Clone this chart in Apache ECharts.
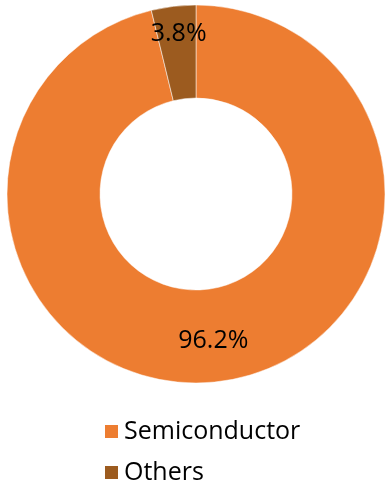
<!DOCTYPE html>
<html><head><meta charset="utf-8">
<script src="https://cdn.jsdelivr.net/npm/echarts@6/dist/echarts.min.js"></script>
<style>html,body{margin:0;padding:0;background:#fff}#c{width:386px;height:487px}</style>
</head><body><div id="c"></div>
<script>
var categories = ["Semiconductor", "Others"];
var values = [96.2, 3.8];
var colors = ["#ED7D31", "#9C5B1F"];
var chart = echarts.init(document.getElementById('c'), null, {renderer: 'canvas'});
chart.setOption({
  animation: false,
  color: colors,
  legend: {
    orient: 'vertical',
    left: 98, top: 414, height: 80,
    itemWidth: 15, itemHeight: 15, itemGap: 16,
    icon: 'rect',
    textStyle: {fontFamily: 'Open Sans', fontSize: 25, color: '#000', lineHeight: 25},
    data: categories
  },
  series: [{
    type: 'pie',
    center: [196, 194],
    radius: [96, 189],
    startAngle: 90,
    clockwise: true,
    itemStyle: {borderColor: '#fff', borderWidth: 0.5},
    label: {
      position: 'inside',
      formatter: function(p){ return p.value.toFixed(1) + '%'; },
      fontFamily: 'Open Sans', fontSize: 25, color: '#000'
    },
    labelLine: {show: false},
    data: categories.map(function(c, i){
      var d = {name: c, value: values[i]};
      if (i === 1) d.label = {offset: [0, -16]};
      else d.label = {offset: [0, 2]};
      return d;
    })
  }]
});
</script></body></html>
